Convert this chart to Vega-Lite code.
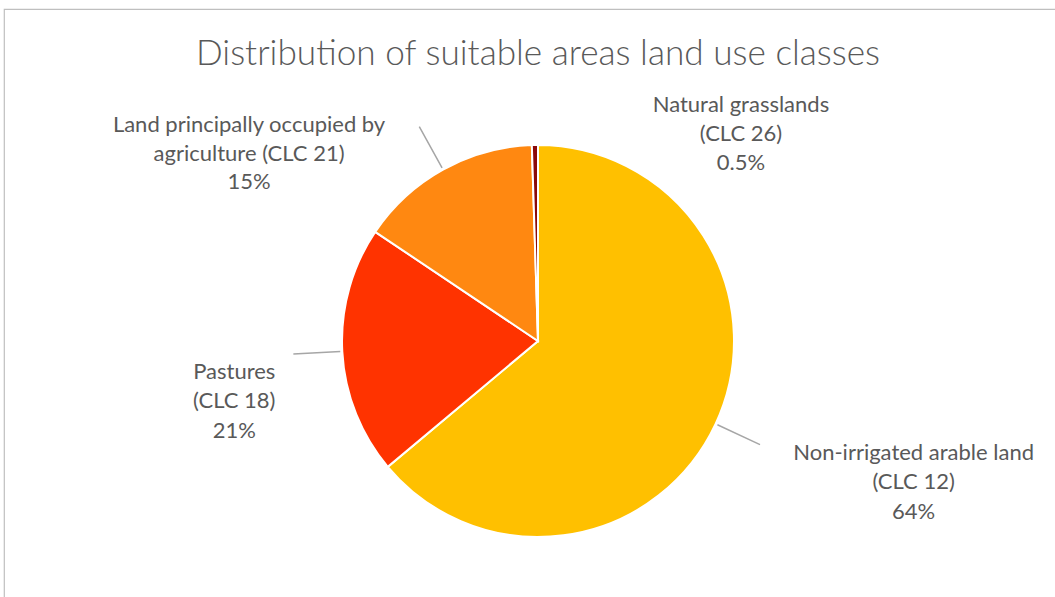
{
  "$schema": "https://vega.github.io/schema/vega-lite/v6.json",
  "autosize": "none",
  "width": 1068,
  "height": 664,
  "padding": {"left": 4, "top": 9, "right": -17, "bottom": -76},
  "background": "white",
  "view": {"stroke": "#bfbfbf", "strokeWidth": 1.2, "fill": "white"},
  "title": {
    "text": "Distribution of suitable areas land use classes",
    "font": "Lato",
    "fontSize": 35.2,
    "fontWeight": 300,
    "color": "#595959",
    "anchor": "middle",
    "baseline": "alphabetic",
    "offset": 0,
    "dy": 91
  },
  "config": {"view": {"stroke": "#bfbfbf", "strokeWidth": 1.2}},
  "data": {
    "values": [
      {"cat": "Non-irrigated arable land (CLC 12)", "label": "Non-irrigated arable land\n(CLC 12)\n64%", "value": 63.9, "order": 1},
      {"cat": "Pastures (CLC 18)", "label": "Pastures\n(CLC 18)\n21%", "value": 20.5, "order": 2},
      {"cat": "Land principally occupied by agriculture (CLC 21)", "label": "Land principally occupied by\nagriculture (CLC 21)\n15%", "value": 15.1, "order": 3},
      {"cat": "Natural grasslands (CLC 26)", "label": "Natural grasslands\n(CLC 26)\n0.5%", "value": 0.5, "order": 4}
    ]
  },
  "layer": [
    {
      "mark": {"type": "arc", "outerRadius": 196, "stroke": "white", "strokeWidth": 2},
      "encoding": {
        "theta": {"field": "value", "type": "quantitative", "stack": true, "scale": {"domain": [0, 100]}},
        "order": {"field": "order", "type": "quantitative"},
        "color": {
          "field": "cat", "type": "nominal", "legend": null,
          "scale": {
            "domain": ["Non-irrigated arable land (CLC 12)", "Pastures (CLC 18)", "Land principally occupied by agriculture (CLC 21)", "Natural grasslands (CLC 26)"],
            "range": ["#FFC000", "#FF3300", "#FF8811", "#8B0A0A"]
          }
        }
      }
    },
    {
      "transform": [
        {"stack": "value", "groupby": [], "sort": [{"field": "order", "order": "ascending"}], "as": ["s0", "s1"]},
        {"fold": ["s0", "s1"], "as": ["k", "v"]},
        {"aggregate": [{"op": "mean", "field": "v", "as": "mid"}], "groupby": ["cat"]}
      ],
      "mark": {"type": "arc", "innerRadius": 198, "outerRadius": 245, "fillOpacity": 0, "stroke": "#a6a6a6", "strokeWidth": 1.5},
      "encoding": {
        "theta": {"field": "mid", "type": "quantitative", "stack": null, "scale": {"domain": [0, 100]}},
        "theta2": {"field": "mid"},
        "strokeOpacity": {"condition": {"test": "datum.cat !== 'Natural grasslands (CLC 26)'", "value": 1}, "value": 0}
      }
    },
    {
      "mark": {"type": "text", "radius": 196, "dx": 198, "dy": 36, "align": "center", "baseline": "alphabetic", "lineBreak": "\n", "lineHeight": 29.5, "font": "Lato", "fontSize": 22, "fill": "#595959"},
      "encoding": {
        "theta": {"field": "value", "type": "quantitative", "stack": true, "scale": {"domain": [0, 100]}},
        "order": {"field": "order", "type": "quantitative"},
        "detail": {"field": "cat", "type": "nominal"},
        "text": {"condition": {"test": "datum.cat === 'Non-irrigated arable land (CLC 12)'", "field": "label", "type": "nominal"}, "value": ""}
      }
    },
    {
      "mark": {"type": "text", "radius": 196, "dx": -108, "dy": 27.5, "align": "center", "baseline": "alphabetic", "lineBreak": "\n", "lineHeight": 29.5, "font": "Lato", "fontSize": 22, "fill": "#595959"},
      "encoding": {
        "theta": {"field": "value", "type": "quantitative", "stack": true, "scale": {"domain": [0, 100]}},
        "order": {"field": "order", "type": "quantitative"},
        "detail": {"field": "cat", "type": "nominal"},
        "text": {"condition": {"test": "datum.cat === 'Pastures (CLC 18)'", "field": "label", "type": "nominal"}, "value": ""}
      }
    },
    {
      "mark": {"type": "text", "radius": 196, "dx": -194, "dy": -37.5, "align": "center", "baseline": "alphabetic", "lineBreak": "\n", "lineHeight": 28.5, "font": "Lato", "fontSize": 22, "fill": "#595959"},
      "encoding": {
        "theta": {"field": "value", "type": "quantitative", "stack": true, "scale": {"domain": [0, 100]}},
        "order": {"field": "order", "type": "quantitative"},
        "detail": {"field": "cat", "type": "nominal"},
        "text": {"condition": {"test": "datum.cat === 'Land principally occupied by agriculture (CLC 21)'", "field": "label", "type": "nominal"}, "value": ""}
      }
    },
    {
      "mark": {"type": "text", "radius": 196, "dx": 206, "dy": -33, "align": "center", "baseline": "alphabetic", "lineBreak": "\n", "lineHeight": 29, "font": "Lato", "fontSize": 22, "fill": "#595959"},
      "encoding": {
        "theta": {"field": "value", "type": "quantitative", "stack": true, "scale": {"domain": [0, 100]}},
        "order": {"field": "order", "type": "quantitative"},
        "detail": {"field": "cat", "type": "nominal"},
        "text": {"condition": {"test": "datum.cat === 'Natural grasslands (CLC 26)'", "field": "label", "type": "nominal"}, "value": ""}
      }
    }
  ]
}
